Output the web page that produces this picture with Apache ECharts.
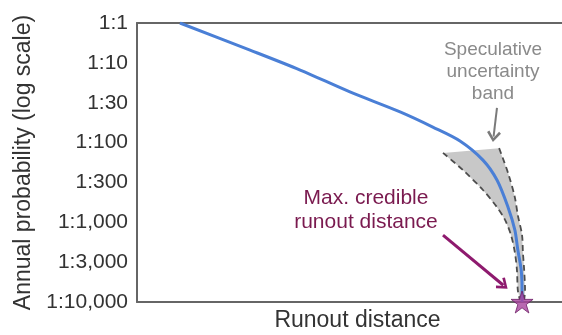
<!DOCTYPE html>
<html>
<head>
<meta charset="utf-8">
<script src="https://cdn.jsdelivr.net/npm/echarts@6/dist/echarts.min.js"></script>
<style>
  html, body { margin: 0; padding: 0; background: #fff; }
  #chart { width: 562px; height: 335px; }
</style>
</head>
<body>
<div id="chart"></div>
<script>
// y tick labels, evenly spaced (index 0 = 1:1 at top)
var probLabels = ['1:1', '1:10', '1:30', '1:100', '1:300', '1:1,000', '1:3,000', '1:10,000'];

// main curve: runout distance (0-100) vs probability index
var curveX = [10.1, 26.6, 38.4, 50.1, 61.9, 69.6, 76.0, 81.4, 84.7, 87.3, 88.9, 89.6, 90.4, 90.6, 90.6];
var curveY = [0, 0.68, 1.18, 1.73, 2.23, 2.61, 2.96, 3.44, 3.94, 4.62, 5.19, 5.69, 6.20, 6.70, 7.0];

// uncertainty band edges
var bandLeftX = [72.0, 76.7, 81.4, 84.7, 86.6, 88.0, 88.9, 89.4, 89.6, 90.1];
var bandLeftY = [3.26, 3.69, 4.19, 4.62, 4.94, 5.32, 5.75, 6.20, 6.70, 6.95];
var bandRightX = [85.2, 87.3, 88.9, 89.6, 90.6, 90.8, 91.1, 91.3, 91.1];
var bandRightY = [3.14, 3.76, 4.37, 4.82, 5.32, 5.75, 6.20, 6.70, 6.95];

// max credible runout point
var maxRunout = [90.6, 7.0];

// annotation arrows [x1, y1, x2, y2]
var bandArrow = [84.7, 2.13, 83.9, 2.85];
var maxArrow = [72.0, 5.32, 86.2, 6.58];

function zip(xs, ys) {
  var out = [];
  for (var i = 0; i < xs.length; i++) out.push([xs[i], ys[i]]);
  return out;
}

var chevron = 'path://M5,0 L10,8 L8.5,9.5 L5,3.6 L1.5,9.5 L0,8 Z';
var starPath = 'path://M50,0 L61.8,36.2 L100,36.2 L69.1,58.6 L80.9,95.1 L50,72.7 L19.1,95.1 L30.9,58.6 L0,36.2 L38.2,36.2 Z';
var font = 'Liberation Sans, Arial, sans-serif';

var chart = echarts.init(document.getElementById('chart'));
var option = {
  animation: false,
  textStyle: { fontFamily: font },
  grid: { left: 137, right: 0, top: 23, bottom: 33, outerBoundsMode: 'none' },
  xAxis: [{
    type: 'value', min: 0, max: 100,
    name: 'Runout distance', nameLocation: 'middle', nameGap: 7,
    nameTextStyle: { fontSize: 23, color: '#333', verticalAlign: 'top', padding: [0, 0, 0, 16] },
    axisLine: { show: true, onZero: false, lineStyle: { color: '#666', width: 2 } },
    axisTick: { show: false }, axisLabel: { show: false }, splitLine: { show: false }
  }, {
    type: 'value', min: 0, max: 100, position: 'top',
    axisLine: { show: true, onZero: false, lineStyle: { color: '#666', width: 2 } },
    axisTick: { show: false }, axisLabel: { show: false }, splitLine: { show: false }
  }],
  yAxis: {
    type: 'value', min: 0, max: 7, interval: 1, inverse: true,
    name: 'Annual probability (log scale)', nameLocation: 'middle', nameGap: 101,
    nameTextStyle: { fontSize: 23, color: '#333' },
    axisLine: { show: true, onZero: false, lineStyle: { color: '#666', width: 2 } },
    axisTick: { show: false }, splitLine: { show: false },
    axisLabel: {
      fontSize: 21, color: '#333', margin: 9,
      formatter: function (v) { return probLabels[v]; }
    }
  },
  graphic: [{
    type: 'text', x: 493, y: 39,
    style: {
      text: 'Speculative\nuncertainty\nband', fill: '#8a8a8a', fontSize: 19,
      lineHeight: 22, align: 'center', verticalAlign: 'top', fontFamily: font
    }
  }, {
    type: 'text', x: 366, y: 186,
    style: {
      text: 'Max. credible\nrunout distance', fill: '#7a1a4f', fontSize: 21,
      lineHeight: 24, align: 'center', verticalAlign: 'top', fontFamily: font
    }
  }],
  series: [{
    type: 'custom',
    silent: true,
    data: [0],
    renderItem: function (params, api) {
      var pts = [];
      for (var i = 0; i < bandLeftX.length; i++) pts.push(api.coord([bandLeftX[i], bandLeftY[i]]));
      for (var j = bandRightX.length - 1; j >= 0; j--) pts.push(api.coord([bandRightX[j], bandRightY[j]]));
      return { type: 'polygon', shape: { points: pts }, style: { fill: '#c8c8c8' } };
    },
    z: 1
  }, {
    type: 'line', data: zip(bandLeftX, bandLeftY), smooth: 0.3, showSymbol: false, silent: true,
    lineStyle: { color: '#4d4d4d', width: 1.8, type: [6, 4] }, z: 2
  }, {
    type: 'line', data: zip(bandRightX, bandRightY), smooth: 0.3, showSymbol: false, silent: true,
    lineStyle: { color: '#4d4d4d', width: 1.8, type: [6, 4] }, z: 2
  }, {
    type: 'line', data: zip(curveX, curveY), smooth: 0.3, showSymbol: false, silent: true,
    lineStyle: { color: '#4a7fd6', width: 3 }, z: 3,
    markLine: {
      silent: true, symbol: ['none', chevron], symbolSize: [14, 11],
      label: { show: false },
      data: [
        [{ coord: [bandArrow[0], bandArrow[1]], lineStyle: { color: '#7a7a7a', width: 2, type: 'solid' } },
         { coord: [bandArrow[2], bandArrow[3]] }],
        [{ coord: [maxArrow[0], maxArrow[1]], lineStyle: { color: '#8e1a6e', width: 3, type: 'solid' } },
         { coord: [maxArrow[2], maxArrow[3]] }]
      ]
    }
  }, {
    type: 'scatter', data: [maxRunout], symbol: starPath, symbolSize: 22, silent: true,
    itemStyle: { color: '#a8449d', borderColor: '#6e1f66', borderWidth: 1 }, z: 4
  }]
};
chart.setOption(option);
</script>
</body>
</html>
